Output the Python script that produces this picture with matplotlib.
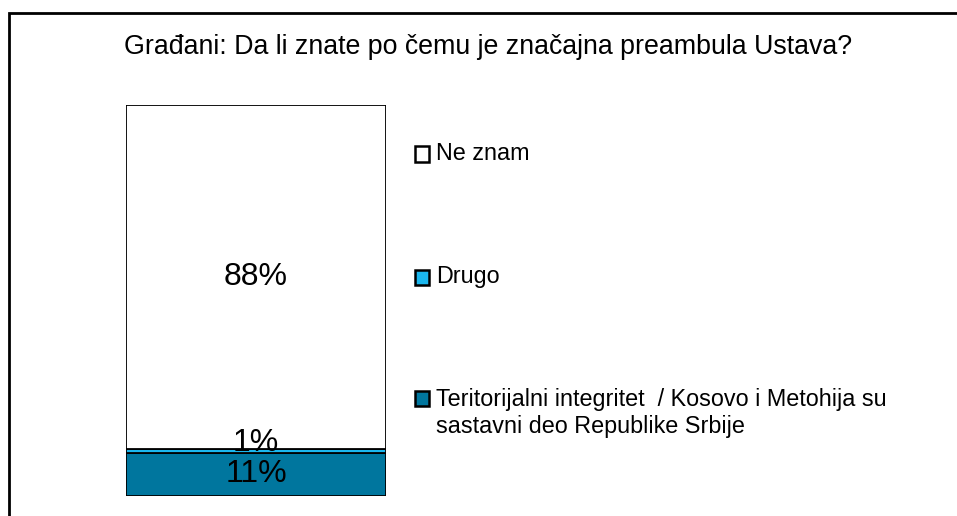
import matplotlib
matplotlib.use("Agg")
import matplotlib.pyplot as plt
from matplotlib.patches import Rectangle

plt.rcParams['font.family'] = ['Liberation Sans', 'DejaVu Sans']

title = "Građani: Da li znate po čemu je značajna preambula Ustava?"
# stacked from bottom to top
categories = ["Teritorijalni integritet  / Kosovo i Metohija su\nsastavni deo Republike Srbije",
              "Drugo", "Ne znam"]
values = [11, 1, 88]
labels = ["11%", "1%", "88%"]
colors = ["#00769E", "#1BB7EE", "#FFFFFF"]

W, H = 957, 516
fig = plt.figure(figsize=(W / 100, H / 100), dpi=100)

# outer frame (only top and left edges visible in the picture)
fig.patches.append(Rectangle((8.5 / W, -0.2), 2, (H - 12.5) / H + 0.2,
                             transform=fig.transFigure, fill=False,
                             edgecolor="black", linewidth=2))

fig.text(488 / W, 1 - 47 / H, title, ha="center", va="center", fontsize=19.3)

ax = fig.add_axes([126 / W, 20 / H, 260 / W, 391 / H])
bottom = 0
for v, c, lab in zip(values, colors, labels):
    ax.bar(0.5, v, width=1, bottom=bottom, color=c, edgecolor="black", linewidth=1.3)
    if v < 5:
        # small segment: label sits on top of it
        ax.text(0.5, bottom + v - 0.5, lab, ha="center", va="baseline", fontsize=23)
    else:
        ax.text(0.5, bottom + v / 2, lab, ha="center", va="center", fontsize=23)
    bottom += v
ax.set_xlim(0, 1)
ax.set_ylim(0, 100)
ax.axis("off")

# legend, top entry first
leg_y = [154, 277, 398]
text_y = [154, 277, 413]
for yy, ty, name, c in zip(leg_y, text_y, categories[::-1], colors[::-1]):
    fig.patches.append(Rectangle((415 / W, 1 - (yy + 7.5) / H), 14 / W, 15 / H,
                                 transform=fig.transFigure, facecolor=c,
                                 edgecolor="black", linewidth=1.8))
    fig.text(436 / W, 1 - ty / H, name, ha="left", va="center",
             fontsize=16.8, linespacing=1.18)

fig.savefig("out.png", dpi=100)
